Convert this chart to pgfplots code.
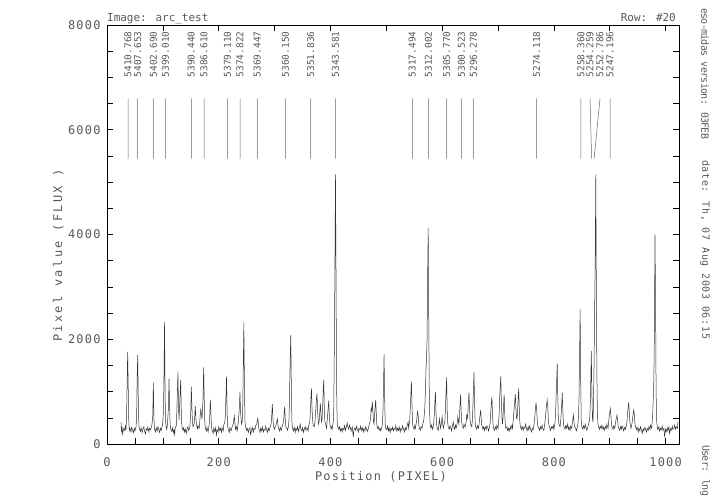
\documentclass[border=0pt]{standalone}
\usepackage{pgfplots}
\pgfplotsset{compat=1.18}
\usepackage{fontspec}
\newfontfamily\plainm{DejaVu Sans Mono}
\newfontfamily\tickf{DejaVu Sans Mono}[LetterSpace=10]
\newfontfamily\ylabf{DejaVu Sans Mono}[LetterSpace=20]
\newfontfamily\esof{DejaVu Sans Mono}[LetterSpace=-7]
\newfontfamily\datef{DejaVu Sans Mono}[LetterSpace=7]
\definecolor{txt}{gray}{0.35}
\begin{document}
\begin{tikzpicture}
\useasboundingbox (0bp,0bp) rectangle (717bp,497bp);
\begin{axis}[
  at={(107bp,53bp)}, anchor=south west, scale only axis,
  width=572bp, height=419bp, clip=false,
  xmin=0, xmax=1024, ymin=0, ymax=8000,
  xtick={0,200,...,1000}, minor x tick num=3, xtick pos=left,
  ytick={0,2000,...,8000}, minor y tick num=3, ytick pos=both, yticklabel pos=left,
  tick align=inside, major tick length=6bp, minor tick length=6bp,
  axis line style={line width=0.8bp, black},
  every tick/.style={black, line width=0.6bp},
  /pgf/number format/assume math mode=true,
  /pgf/number format/1000 sep={},
  ticklabel style={font=\tickf\fontsize{12}{12}\selectfont, text=txt},
  xticklabel style={yshift=-10bp},
  yticklabel style={xshift=-3bp},
  xlabel={Position (PIXEL)},
  xlabel style={at={(axis description cs:0.479,-0.079)}, anchor=center, font=\tickf\fontsize{12}{12}\selectfont, text=txt},
  ylabel={Pixel value (FLUX )},
  ylabel style={at={(axis description cs:-0.085,0.45)}, anchor=center, font=\ylabf\fontsize{12}{12}\selectfont, text=txt},
]
% spectrum
\addplot[black!80, line width=0.5bp] coordinates {
(25,420)(26,240)(27,310)(28,190)(30,300)(32,260)(33,340)(34,280)(35,520)(36,1150)(37,1760)(38,1080)(39,420)(40,260)(41,300)(43,230)(44,320)(46,270)(47,210)(49,300)(50,250)(52,330)(53,480)(54,1300)(55,1700)(56,880)(57,360)(58,290)(60,240)(61,310)(63,220)(64,280)(66,330)(67,250)(69,190)(70,290)(72,260)(73,320)(75,230)(76,300)(78,270)(80,340)(81,420)(82,560)(83,1170)(84,480)(85,280)(87,230)(88,310)(90,250)(91,330)(93,280)(94,220)(96,300)(97,260)(99,350)(100,430)
(101,620)(102,1250)(103,2320)(104,950)(105,420)(106,330)(107,280)(108,360)(109,520)(110,700)(111,1250)(112,760)(113,380)(114,290)(116,240)(117,310)(119,220)(120,270)(121,180)(122,300)(124,350)(125,620)(126,1000)(127,1380)(128,700)(129,460)(130,700)(131,1000)(132,1220)(133,620)(134,330)(136,260)(137,310)(139,230)(140,290)(142,200)(143,280)(145,330)(146,260)(148,300)(149,420)(150,640)(151,1094)(152,700)(153,420)(154,330)(156,380)(157,520)(158,725)(159,520)(160,380)(162,290)(163,350)(165,300)(166,420)(167,560)(168,680)(169,560)(170,480)(171,640)(172,900)(173,1463)(174,880)(175,430)(176,300)(178,250)(179,320)(181,230)(183,380)(184,560)(185,840)(186,600)(187,330)(188,260)(190,200)(191,300)(193,240)(194,310)(196,170)(197,280)(199,230)(200,330)
(202,260)(203,300)(205,220)(206,310)(208,250)(209,360)(211,420)(212,560)(213,920)(214,1285)(215,620)(216,350)(217,280)(219,220)(220,310)(222,250)(224,330)(226,380)(227,460)(228,534)(229,400)(230,280)(232,330)(233,250)(235,400)(236,560)(237,700)(238,998)(239,620)(240,480)(241,380)(242,420)(243,700)(244,1500)(245,2322)(246,1150)(247,430)(248,330)(250,260)(251,300)(253,220)(254,280)(256,310)(257,180)(259,260)(260,320)(262,230)(263,300)(265,280)(266,350)(268,380)(269,440)(270,490)(271,380)(272,280)(274,220)(275,300)(277,250)(278,330)(280,230)(281,280)(283,260)(284,340)(286,270)(287,220)(289,300)(290,250)(292,320)(294,400)(295,560)(296,763)(297,520)(298,330)(300,280)
(301,320)(303,380)(304,430)(305,480)(306,380)(307,300)(309,250)(310,320)(312,260)(314,350)(316,420)(317,560)(318,712)(319,500)(320,330)(322,300)(323,260)(325,340)(326,520)(327,1100)(328,1650)(329,2080)(330,1100)(331,430)(332,300)(334,250)(335,320)(337,220)(338,300)(340,260)(341,330)(343,240)(344,300)(346,380)(347,280)(349,250)(350,310)(352,220)(353,290)(355,330)(356,260)(358,310)(360,250)(361,350)(363,420)(364,600)(365,860)(366,1062)(367,700)(368,480)(369,360)(371,330)(372,400)(373,520)(374,700)(375,860)(376,967)(377,640)(378,430)(379,380)(380,460)(381,620)(382,776)(383,560)(384,420)(385,480)(386,700)(387,1000)(388,1221)(389,700)(390,430)(392,350)(393,300)(394,420)(395,560)(396,700)(397,827)(398,540)(399,380)(401,300)(402,330)(403,280)(404,360)(405,420)(406,700)(407,1900)(408,3300)(409,5150)(410,3250)(411,1100)(412,450)(413,330)(415,280)(416,330)(418,250)(419,300)
(421,230)(422,300)(424,270)(425,350)(427,260)(428,310)(430,400)(431,330)(433,280)(434,360)(436,300)(437,250)(439,330)(440,220)(441,130)(442,280)(444,310)(445,260)(447,340)(448,280)(450,230)(451,300)(453,270)(454,340)(456,260)(457,310)(459,230)(460,300)(462,250)(463,330)(465,280)(466,240)(468,300)(469,350)(471,430)(472,520)(473,700)(474,620)(475,808)(476,640)(477,430)(478,380)(479,560)(480,700)(481,840)(482,600)(483,380)(484,300)(486,330)(487,260)(489,300)(490,250)(492,320)(493,380)(494,600)(495,1100)(496,1717)(497,900)(498,400)(499,300)(501,270)(502,340)(504,250)(505,310)(507,220)(508,300)(510,260)(511,320)(513,250)(514,300)(516,280)(517,350)(519,240)(520,300)(522,260)(523,330)(525,230)(526,300)(528,270)(529,350)(531,280)(532,230)(534,310)(535,260)(537,330)(539,420)(540,300)(541,380)(542,450)(543,700)(544,950)(545,1189)(546,760)(547,400)(548,320)(550,280)(551,350)(552,300)(554,420)(555,520)(556,616)(557,560)(558,400)(559,300)
(561,260)(562,330)(564,300)(565,370)(567,450)(568,560)(569,700)(570,1000)(571,1400)(572,1635)(573,2000)(574,3200)(575,4130)(576,2400)(577,900)(578,450)(579,330)(580,300)(581,360)(583,280)(584,330)(585,420)(586,560)(587,800)(588,992)(589,600)(590,380)(591,300)(593,260)(594,350)(595,480)(596,400)(597,300)(598,360)(600,520)(601,380)(602,300)(603,350)(605,450)(606,700)(607,1000)(608,1265)(609,650)(610,400)(611,320)(613,280)(614,350)(616,300)(617,250)(618,330)(620,420)(621,330)(622,280)(624,360)(625,300)(627,400)(628,520)(629,450)(630,380)(631,550)(632,750)(633,948)(634,640)(635,420)(636,330)(638,300)(639,380)(641,320)(643,420)(644,560)(645,470)(646,600)(647,800)(648,979)(649,700)(650,450)(651,380)(653,330)(654,450)(655,700)(656,1050)(657,1368)(658,800)(659,420)(660,330)(662,280)(663,350)(665,300)(666,380)(667,480)(668,560)(669,649)(670,480)(671,350)(673,280)(674,330)(676,260)(677,330)(679,280)(680,350)(682,300)(683,250)(685,340)(686,420)(687,600)(688,780)(689,903)(690,600)(691,380)(692,300)(694,260)(695,330)(697,280)(698,360)(700,300)
(701,420)(702,560)(703,900)(704,1100)(705,1297)(706,800)(707,500)(708,380)(709,520)(710,750)(711,948)(712,600)(713,380)(714,300)(716,330)(717,260)(719,300)(720,240)(722,330)(723,280)(725,360)(726,300)(727,420)(728,560)(729,700)(730,820)(731,954)(732,700)(733,500)(734,480)(735,640)(736,850)(737,1062)(738,700)(739,420)(740,330)(742,280)(743,340)(745,260)(746,320)(748,300)(749,380)(751,300)(752,250)(754,330)(755,270)(757,350)(758,280)(760,230)(761,300)(763,270)(764,340)(765,420)(766,550)(767,680)(768,776)(769,700)(770,500)(771,350)(773,300)(774,260)(776,330)(777,280)(779,360)(780,300)(782,260)(783,330)(784,420)(785,520)(786,650)(787,760)(788,840)(789,720)(790,480)(791,360)(793,300)(794,260)(796,330)(797,300)(799,360)(800,280)(801,330)(802,420)(803,560)(804,900)(805,1200)(806,1540)(807,900)(808,480)(809,380)(811,330)(812,420)(813,560)(814,760)(815,979)(816,640)(817,420)(818,330)(820,280)(821,350)(823,300)(824,380)(826,280)(827,330)(829,260)(830,340)(832,300)(833,400)(834,480)(835,553)(836,420)(837,330)(839,300)(840,250)(842,320)(843,380)(844,500)(845,900)(846,1700)(847,2570)(848,1200)(849,450)(850,330)
(852,280)(853,350)(855,300)(856,380)(858,300)(859,260)(861,330)(862,380)(864,460)(865,700)(866,1200)(867,1780)(868,1000)(869,500)(870,420)(871,800)(872,1600)(873,2600)(874,3500)(875,5150)(876,3000)(877,1300)(878,550)(879,380)(880,330)(882,280)(883,340)(885,300)(886,360)(888,280)(889,320)(891,260)(892,340)(894,300)(895,380)(897,300)(898,420)(899,520)(900,600)(901,680)(902,560)(903,400)(904,320)(906,280)(907,350)(909,300)(910,380)(911,450)(912,500)(913,553)(914,450)(915,350)(916,300)(918,260)(919,330)(921,280)(922,350)(924,300)(925,250)(927,320)(928,280)(930,360)(931,450)(932,600)(933,700)(934,795)(935,600)(936,420)(937,350)(938,300)(940,400)(941,500)(942,580)(943,649)(944,560)(945,400)(946,330)(948,280)(949,320)(951,230)(952,300)(954,250)(955,330)(957,270)(958,200)(960,290)(961,250)(963,320)(964,280)(966,230)(967,300)(969,260)(970,330)(972,280)(973,360)(975,300)(976,420)(977,600)(978,900)(979,1259)(980,2200)(981,4000)(982,2800)(983,1000)(984,450)(985,330)(986,280)(988,330)(989,250)(991,300)(992,270)(994,340)(995,260)(997,300)(998,150)(1000,280)(1001,230)(1003,310)(1004,250)(1006,330)(1007,200)(1009,290)(1010,260)(1012,340)(1013,280)(1015,300)(1016,360)(1018,280)(1019,330)(1021,300)(1022,420)
};
% identification lines
\addplot[black!60, line width=0.5bp, unbounded coords=jump] table[row sep=\\] {
x y\\
37.6 5450\\ 37.6 6600\\ nan nan\\
55 5450\\ 55 6600\\ nan nan\\
82.9 5450\\ 82.9 6600\\ nan nan\\
104.4 5450\\ 104.4 6600\\ nan nan\\
150.9 5450\\ 150.9 6600\\ nan nan\\
173.7 5450\\ 173.7 6600\\ nan nan\\
215.4 5450\\ 215.4 6600\\ nan nan\\
238.1 5450\\ 238.1 6600\\ nan nan\\
269 5450\\ 269 6600\\ nan nan\\
319.2 5450\\ 319.2 6600\\ nan nan\\
364.7 5450\\ 364.7 6600\\ nan nan\\
408.8 5450\\ 408.8 6600\\ nan nan\\
546.5 5450\\ 546.5 6600\\ nan nan\\
575.2 5450\\ 575.2 6600\\ nan nan\\
608.1 5450\\ 608.1 6600\\ nan nan\\
634.3 5450\\ 634.3 6600\\ nan nan\\
655.8 5450\\ 655.8 6600\\ nan nan\\
769.2 5450\\ 769.2 6600\\ nan nan\\
848.5 5450\\ 848.5 6600\\ nan nan\\
867.6 5450\\ 864.7 6600\\ nan nan\\
872 5450\\ 882.6 6600\\ nan nan\\
900.5 5450\\ 900.5 6600\\
};
% identification labels
\addplot[draw=none, nodes near coords, point meta=explicit symbolic,
  every node near coord/.append style={rotate=90, anchor=west, inner sep=0pt,
    font=\plainm\fontsize{9.5}{9.5}\selectfont, text=txt}]
  table[meta=lab, row sep=\\] {
x y lab\\
37.6 7000 5410.768\\
55 7000 5407.653\\
82.9 7000 5402.690\\
104.4 7000 5399.010\\
150.9 7000 5390.440\\
173.7 7000 5386.610\\
215.4 7000 5379.110\\
238.1 7000 5374.822\\
269 7000 5369.447\\
319.2 7000 5360.150\\
364.7 7000 5351.836\\
408.8 7000 5343.581\\
546.5 7000 5317.494\\
575.2 7000 5312.002\\
608.1 7000 5305.770\\
634.3 7000 5300.523\\
655.8 7000 5296.278\\
769.2 7000 5274.118\\
848.5 7000 5258.360\\
864.7 7000 5254.259\\
882.6 7000 5252.786\\
900.5 7000 5247.196\\
};
\node[anchor=base west, inner sep=0pt, font=\plainm\fontsize{11}{11}\selectfont, text=txt] at (rel axis cs:0,1) [yshift=3bp] {Image: arc\_test};
\node[anchor=base east, inner sep=0pt, font=\plainm\fontsize{11}{11}\selectfont, text=txt] at (rel axis cs:1,1) [yshift=3bp, xshift=-3bp] {Row: \#20};
\end{axis}
% top ticks every 100
\begin{axis}[
  at={(107bp,53bp)}, anchor=south west, scale only axis,
  width=572bp, height=419bp,
  xmin=0, xmax=1024, ymin=0, ymax=8000,
  hide y axis,
  xtick={0,100,...,1000}, xtick pos=right, xticklabels={},
  tick align=inside, major tick length=6bp,
  axis line style={line width=0.8bp, black},
  every tick/.style={black, line width=0.6bp},
]
\end{axis}
\node[rotate=-90, anchor=west, inner sep=0pt, font=\esof\fontsize{10}{10}\selectfont, text=txt] at (705bp,489bp) {eso-midas version: 03FEB};
\node[rotate=-90, anchor=west, inner sep=0pt, font=\datef\fontsize{10}{10}\selectfont, text=txt] at (705bp,337bp) {date: Th, 07 Aug 2003 06:15};
\node[rotate=-90, anchor=west, inner sep=0pt, font=\esof\fontsize{10}{10}\selectfont, text=txt] at (705bp,52bp) {User: lng};
\end{tikzpicture}
\end{document}
